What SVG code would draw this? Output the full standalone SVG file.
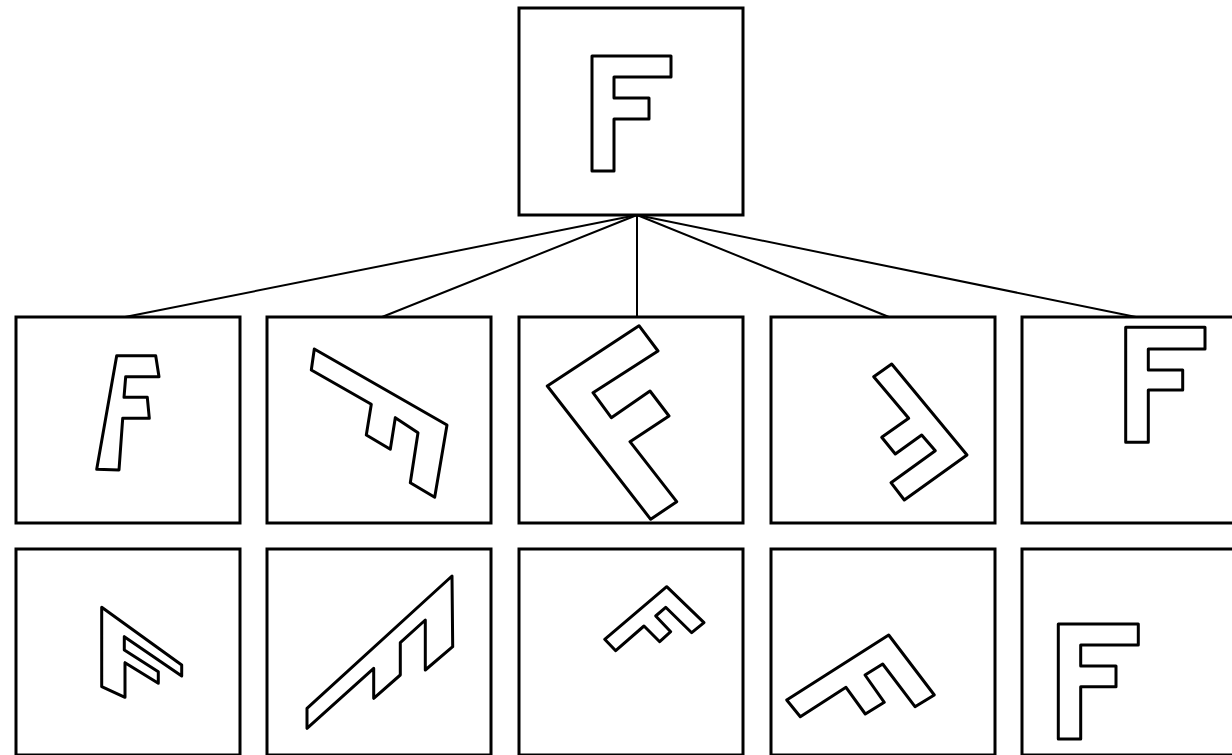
<svg xmlns="http://www.w3.org/2000/svg" width="1232" height="755" viewBox="0 0 1232 755">
<style>
.box{fill:#fff;stroke:#000;stroke-width:3}
.f{fill:#fff;stroke:#000;stroke-width:3;stroke-linejoin:round}
.edge{stroke:#000;stroke-width:2;fill:none}
</style>
<rect width="1232" height="755" fill="#fff"/>
<g id="connectors">
<line class="edge" x1="637" y1="215" x2="125" y2="317"/>
<line class="edge" x1="637" y1="215" x2="382" y2="317"/>
<line class="edge" x1="637" y1="215" x2="637" y2="317"/>
<line class="edge" x1="637" y1="215" x2="889" y2="317"/>
<line class="edge" x1="637" y1="215" x2="1136" y2="317"/>
</g>
<g id="root">
<rect class="box" x="519" y="8" width="224" height="207"/>
<polygon class="f" points="592,56 671,56 671,77 614,77 614,98 649,98 649,119 614,119 614,171 592,171"/>
</g>
<g id="r1c1">
<rect class="box" x="16" y="317" width="224" height="206"/>
<polygon class="f" points="116.7,355.7 155.7,355.7 159,376.7 125.7,376.7 124,397.3 147.3,397.3 149.3,418.3 122.7,418.3 119,470 96.7,469.3"/>
</g>
<g id="r1c2">
<rect class="box" x="267" y="317" width="224" height="206"/>
<polygon class="f" points="314.3,349 447,425 434.7,497.3 410.3,482.7 418,432.7 395.3,417.7 390.3,449.3 366.3,435 371.3,404.3 311.3,370"/>
</g>
<g id="r1c3">
<rect class="box" x="519" y="317" width="224" height="206"/>
<polygon class="f" points="639,325.7 658,351 593,392.7 611.3,417.7 650,391 669,416 630,441.7 676.7,501.7 650.7,519.3 547.3,386"/>
</g>
<g id="r1c4">
<rect class="box" x="771" y="317" width="224" height="206"/>
<polygon class="f" points="891.7,364 967,455 904.3,500 891,482.7 935.3,450.7 921.7,435 895.3,454 881.7,437.3 908.7,418.3 873.7,376.7"/>
</g>
<g id="r1c5">
<rect class="box" x="1022" y="317" width="224" height="206"/>
<polygon class="f" points="1125.7,327.3 1205,327.3 1205,349 1148.3,349 1148.3,370 1182.7,370 1182.7,390 1148.3,390 1148.3,442.3 1125.7,442.3"/>
</g>
<g id="r2c1">
<rect class="box" x="16" y="549" width="224" height="206"/>
<polygon class="f" points="101.7,607.3 181.7,665 181.7,676 124.3,636.7 124.3,650 158.3,671.7 158.3,683.3 125,662.7 125,697.3 101.7,686.7"/>
</g>
<g id="r2c2">
<rect class="box" x="267" y="549" width="224" height="206"/>
<polygon class="f" points="307,708.3 452,576 452.7,646.7 425.3,670 425.3,620 400.3,642.7 400.3,675 373.7,698.3 373.7,668.3 307,728.3"/>
</g>
<g id="r2c3">
<rect class="box" x="519" y="549" width="224" height="206"/>
<polygon class="f" points="666.7,586.7 704,622.7 691.7,632.7 665.7,607.3 655.7,616 670.7,631.7 659.7,641.7 644,626 615.7,650.7 604.7,639.3"/>
</g>
<g id="r2c4">
<rect class="box" x="771" y="549" width="224" height="206"/>
<polygon class="f" points="888.7,635 934.3,695 915,706.7 882.7,664 865,675 884.3,702.3 865.3,714 846,687.3 800.3,716.7 786.7,700"/>
</g>
<g id="r2c5">
<rect class="box" x="1022" y="549" width="224" height="206"/>
<polygon class="f" points="1058.3,624 1138.3,624 1138.3,645 1080.7,645 1080.7,666 1116,666 1116,686.7 1080.7,686.7 1080.7,739 1058.3,739"/>
</g>
</svg>
